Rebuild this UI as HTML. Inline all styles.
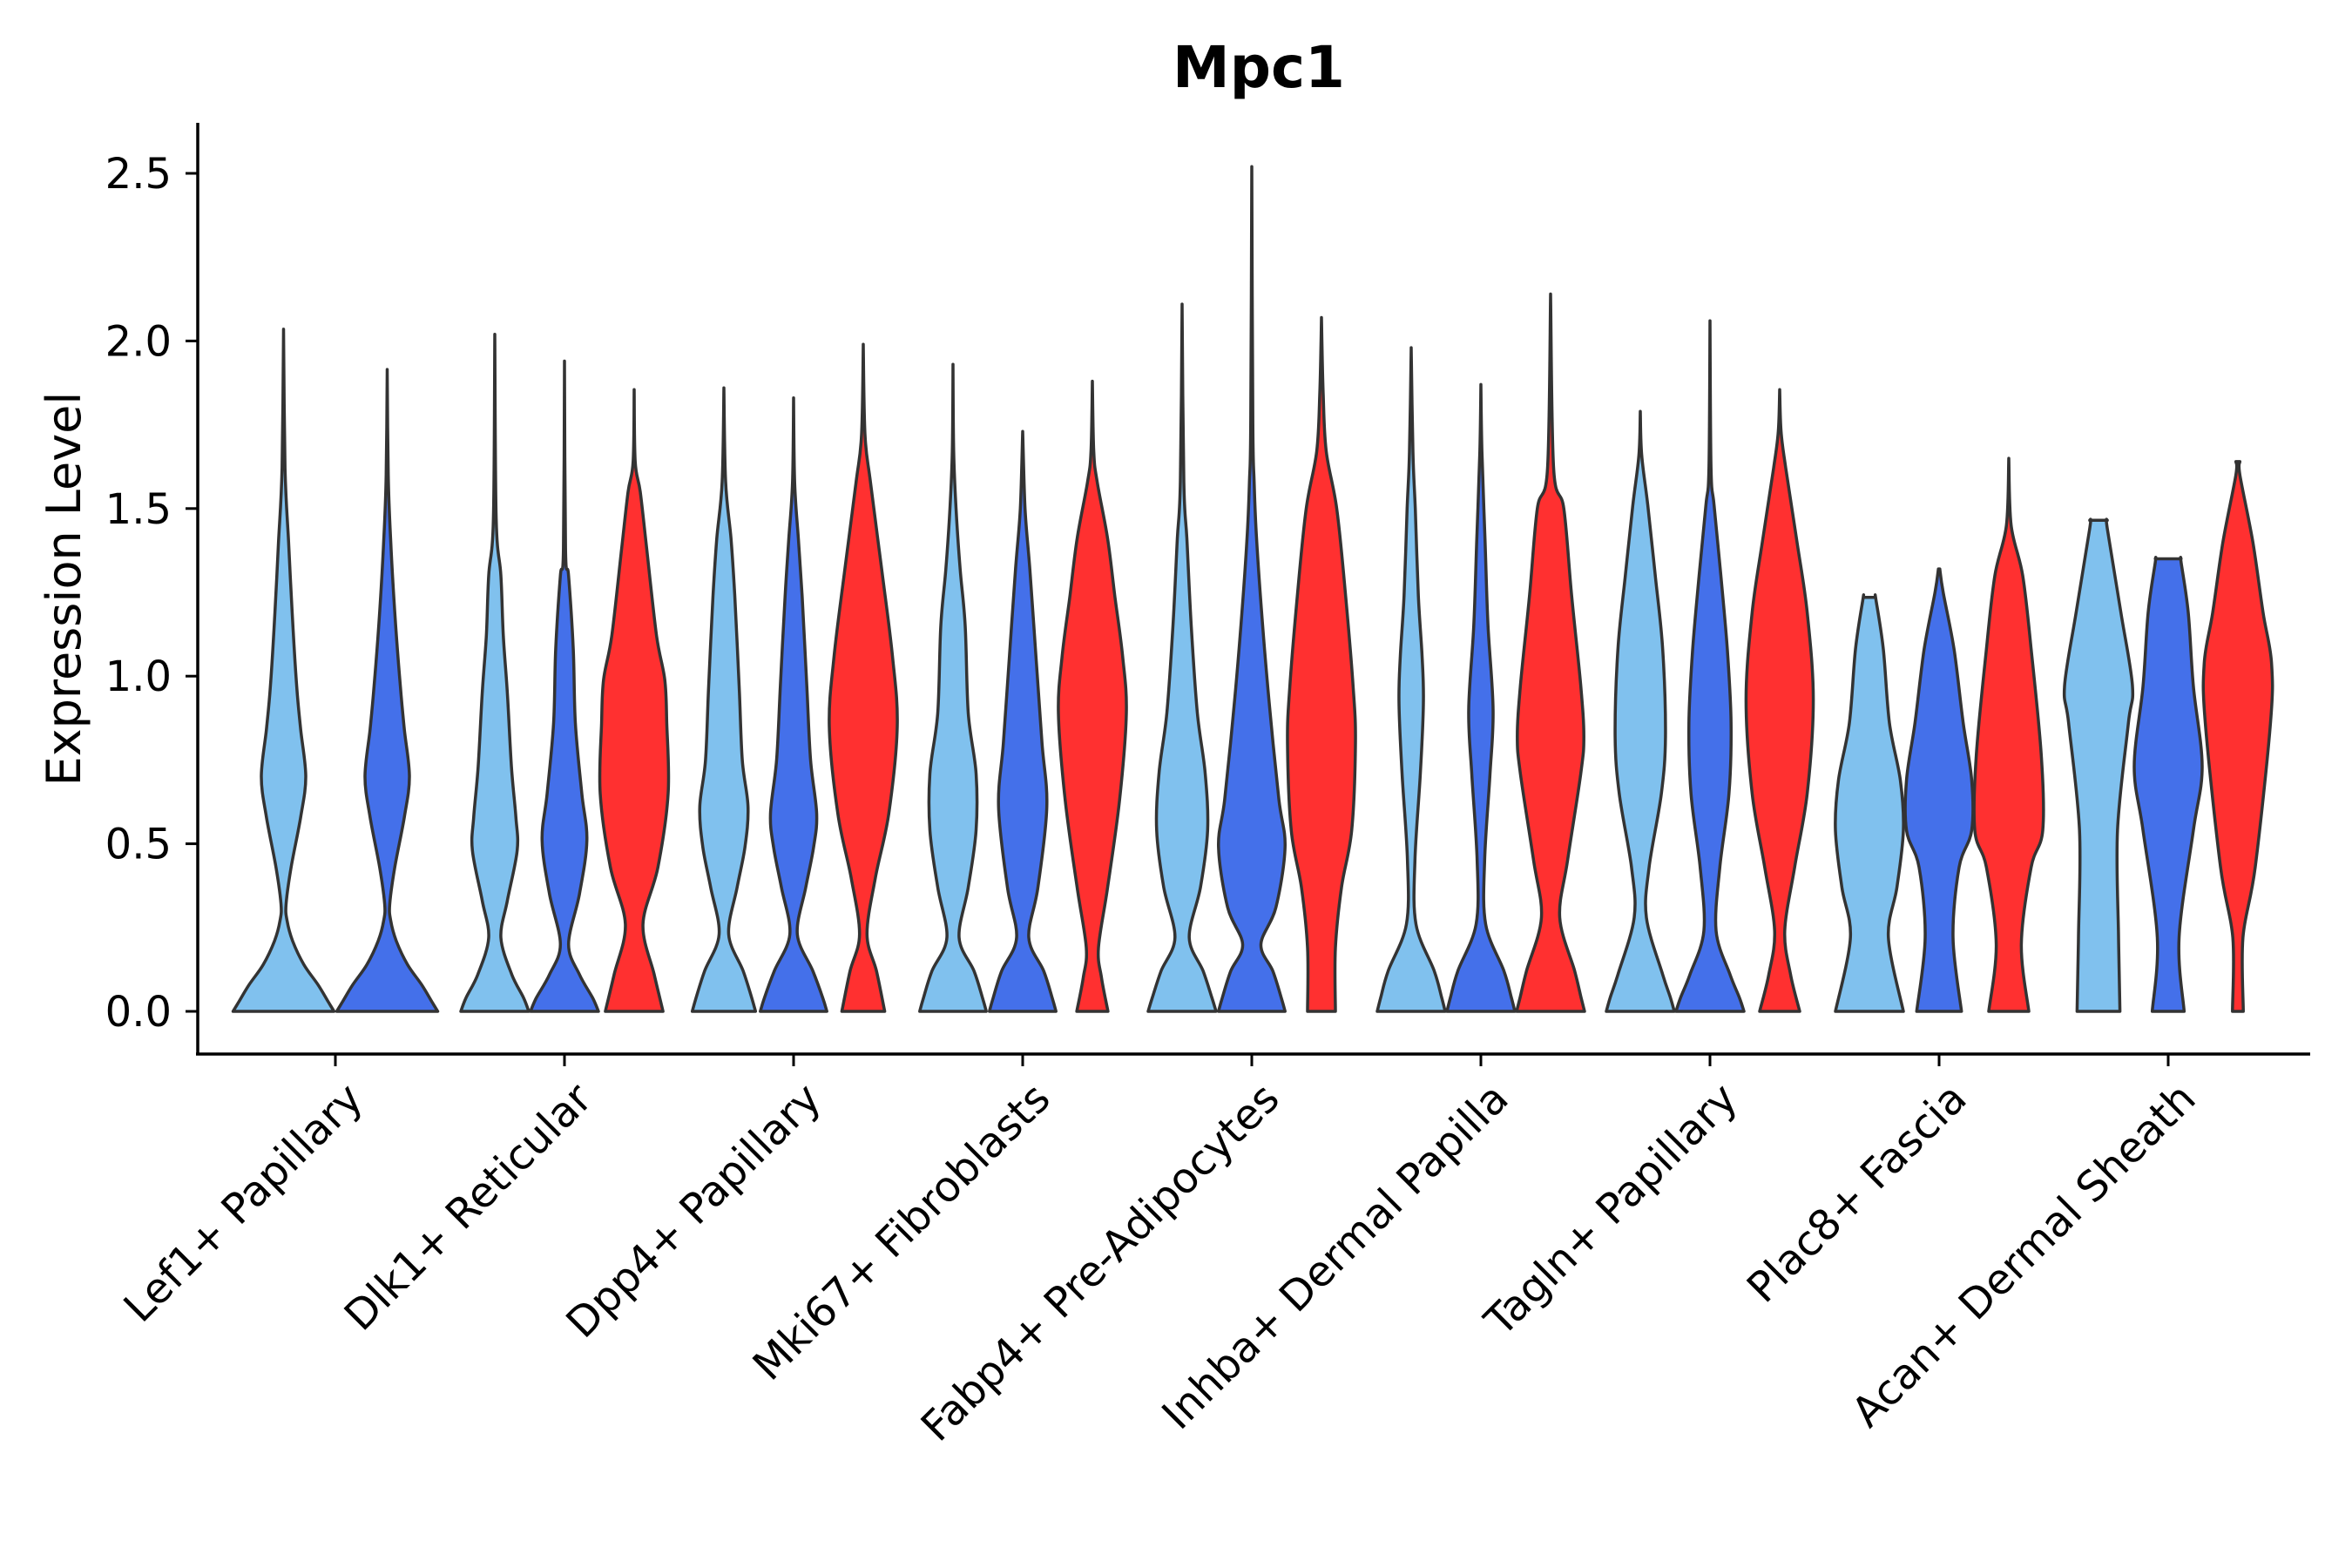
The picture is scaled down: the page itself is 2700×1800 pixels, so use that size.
<!DOCTYPE html>
<html><head><meta charset="utf-8"><style>
html,body{margin:0;padding:0;background:#fff}
svg{display:block}
text{font-family:"DejaVu Sans","Liberation Sans",sans-serif;fill:#000}
</style></head><body>
<svg id="chart" width="2700" height="1800" viewBox="0 0 2700 1800" xmlns="http://www.w3.org/2000/svg">
<rect width="2700" height="1800" fill="#fff"/>
<text x="1445" y="100" font-size="66" font-weight="bold" text-anchor="middle">Mpc1</text>
<text transform="translate(92,676) rotate(-90)" font-size="54" text-anchor="middle">Expression Level</text>
<g id="plot"></g>
</svg>
<script>
const categories = ["Lef1+ Papillary","Dlk1+ Reticular","Dpp4+ Papillary","Mki67+ Fibroblasts","Fabp4+ Pre-Adipocytes","Inhba+ Dermal Papilla","Tagln+ Papillary","Plac8+ Fascia","Acan+ Dermal Sheath"];
const seriesNames = ["light","blue","red"];
const yTicks = [0, 0.5, 1.0, 1.5, 2.0, 2.5];
const yTickLabels = ["0.0","0.5","1.0","1.5","2.0","2.5"];
const present = [[0,1],[0,1,2],[0,1,2],[0,1,2],[0,1,2],[0,1,2],[0,1,2],[0,1,2],[0,1,2]];
const tops = [[2.035,1.915],[2.02,1.94,1.855],[1.86,1.83,1.99],[1.93,1.73,1.88],[2.11,2.52,2.07],[1.98,1.87,2.14],[1.79,2.06,1.855],[1.235,1.32,1.65],[1.465,1.35,1.64]];
const topWidths = [[0,0],[0,0,0],[0,0,0],[0,0,0],[0,0,0],[0,0,0],[0,0,0],[0.18,0.02,0],[0.26,0.38,0.06]];
const profiles = [
 [[[0,1],[0.03,0.88],[0.08,0.68],[0.14,0.4],[0.21,0.18],[0.27,0.07],[0.32,0.05],[0.43,0.15],[0.58,0.34],[0.7,0.44],[0.84,0.34],[0.97,0.26],[1.19,0.17],[1.4,0.1],[1.62,0.03]],
  [[0,1],[0.03,0.88],[0.08,0.68],[0.14,0.4],[0.21,0.18],[0.27,0.07],[0.32,0.05],[0.43,0.15],[0.58,0.34],[0.7,0.44],[0.84,0.34],[0.97,0.26],[1.19,0.15],[1.4,0.07],[1.6,0.02]]],
 [[[0,1],[0.04,0.85],[0.11,0.5],[0.22,0.18],[0.33,0.37],[0.48,0.66],[0.58,0.62],[0.73,0.49],[0.95,0.37],[1.12,0.25],[1.3,0.18],[1.47,0.04]],
  [[0,1],[0.04,0.83],[0.11,0.44],[0.2,0.12],[0.35,0.44],[0.51,0.66],[0.65,0.51],[0.86,0.32],[1.08,0.26],[1.3,0.12],[1.38,0.03]],
  [[0,0.85],[0.11,0.59],[0.26,0.26],[0.43,0.7],[0.65,1],[0.86,0.96],[0.99,0.9],[1.12,0.66],[1.38,0.37],[1.55,0.18],[1.64,0.03]]],
 [[[0,0.93],[0.04,0.82],[0.12,0.57],[0.23,0.14],[0.37,0.39],[0.49,0.62],[0.61,0.71],[0.75,0.54],[0.97,0.45],[1.24,0.32],[1.41,0.21],[1.58,0.05]],
  [[0,0.98],[0.04,0.86],[0.12,0.57],[0.23,0.11],[0.37,0.36],[0.49,0.59],[0.59,0.68],[0.75,0.5],[0.97,0.39],[1.24,0.25],[1.41,0.14],[1.58,0.03]],
  [[0,0.63],[0.12,0.39],[0.23,0.11],[0.4,0.36],[0.59,0.75],[0.85,1],[1.06,0.86],[1.32,0.54],[1.58,0.21],[1.72,0.05]]],
 [[[0,0.98],[0.04,0.87],[0.12,0.62],[0.22,0.18],[0.37,0.45],[0.54,0.68],[0.71,0.68],[0.89,0.45],[1.15,0.36],[1.32,0.21],[1.5,0.09],[1.67,0.02]],
  [[0,0.98],[0.04,0.87],[0.12,0.62],[0.22,0.18],[0.37,0.45],[0.61,0.71],[0.8,0.57],[1.06,0.39],[1.32,0.21],[1.5,0.07]],
  [[0,0.46],[0.1,0.27],[0.19,0.18],[0.37,0.45],[0.63,0.8],[0.89,1],[1.06,0.89],[1.24,0.66],[1.41,0.45],[1.58,0.14],[1.67,0.04]]],
 [[[0,1],[0.04,0.88],[0.12,0.62],[0.22,0.21],[0.37,0.54],[0.54,0.75],[0.71,0.68],[0.89,0.45],[1.15,0.27],[1.41,0.14],[1.58,0.05]],
  [[0,0.98],[0.04,0.87],[0.12,0.62],[0.2,0.27],[0.31,0.71],[0.49,0.98],[0.63,0.8],[0.89,0.54],[1.15,0.32],[1.41,0.14],[1.58,0.07],[1.76,0.03]],
  [[0,0.41],[0.19,0.41],[0.37,0.59],[0.54,0.89],[0.8,1],[0.97,0.93],[1.24,0.71],[1.5,0.45],[1.67,0.14],[1.84,0.05]]],
 [[[0,1],[0.04,0.9],[0.12,0.68],[0.26,0.14],[0.45,0.11],[0.71,0.27],[0.92,0.36],[1.06,0.32],[1.24,0.21],[1.5,0.12],[1.67,0.05]],
  [[0,1],[0.04,0.9],[0.12,0.68],[0.26,0.14],[0.45,0.11],[0.71,0.27],[0.9,0.36],[1.15,0.21],[1.41,0.12],[1.67,0.03]],
  [[0,1],[0.04,0.9],[0.12,0.71],[0.28,0.27],[0.45,0.5],[0.71,0.89],[0.82,0.98],[0.97,0.89],[1.24,0.62],[1.5,0.39],[1.62,0.09]]],
 [[[0,1],[0.04,0.89],[0.11,0.66],[0.28,0.18],[0.43,0.26],[0.65,0.62],[0.82,0.74],[1.08,0.66],[1.3,0.44],[1.51,0.22],[1.66,0.04]],
  [[0,1],[0.04,0.87],[0.11,0.59],[0.24,0.18],[0.43,0.29],[0.65,0.56],[0.86,0.62],[1.08,0.51],[1.3,0.32],[1.51,0.12],[1.62,0.03]],
  [[0,0.59],[0.11,0.32],[0.24,0.15],[0.43,0.44],[0.65,0.81],[0.93,0.99],[1.19,0.81],[1.4,0.51],[1.62,0.18],[1.73,0.04]]],
 [[[0,1],[0.22,0.56],[0.37,0.81],[0.54,1],[0.69,0.91],[0.86,0.59],[1.08,0.41],[1.23,0.19]],
  [[0,0.66],[0.22,0.41],[0.43,0.59],[0.54,0.96],[0.69,0.96],[0.86,0.71],[1.08,0.44],[1.25,0.12]],
  [[0,0.59],[0.2,0.37],[0.43,0.66],[0.54,1],[0.76,0.96],[1.08,0.66],[1.3,0.41],[1.45,0.07]]],
 [[[0,0.63],[0.22,0.59],[0.54,0.56],[0.86,0.88],[0.97,1],[1.19,0.66],[1.44,0.26]],
  [[0,0.47],[0.22,0.32],[0.54,0.74],[0.73,1],[0.97,0.74],[1.19,0.59],[1.34,0.38]],
  [[0,0.16],[0.22,0.15],[0.43,0.51],[0.86,0.96],[1.04,0.99],[1.19,0.74],[1.4,0.44],[1.6,0.06]]]
];
const colors = ["#80C1EE","#4470EA","#FF3030"];
const NS = "http://www.w3.org/2000/svg";
const plot = document.getElementById("plot");
const X0 = 385, DX = 263, Y0 = 1161, KY = 384.8;
function xScale(i){ return X0 + DX*i; }
function yScale(v){ return Y0 - KY*v; }
function mk(tag, attrs){ const e=document.createElementNS(NS,tag); for(const k in attrs) e.setAttribute(k,attrs[k]); return e; }
function smooth(pts){
  let d = "";
  for(let i=0;i<pts.length-1;i++){
    const p0=pts[Math.max(0,i-1)], p1=pts[i], p2=pts[i+1], p3=pts[Math.min(pts.length-1,i+2)];
    const c1=[p1[0]+(p2[0]-p0[0])/6, p1[1]+(p2[1]-p0[1])/6];
    const c2=[p2[0]-(p3[0]-p1[0])/6, p2[1]-(p3[1]-p1[1])/6];
    d += " C"+c1[0].toFixed(1)+","+c1[1].toFixed(1)+" "+c2[0].toFixed(1)+","+c2[1].toFixed(1)+" "+p2[0].toFixed(1)+","+p2[1].toFixed(1);
  }
  return d;
}
categories.forEach((cat, ci) => {
  const pres = present[ci];
  const n = pres.length;
  const off = n === 2 ? 119 : 80;
  const hw = n === 2 ? 58 : 39;
  pres.forEach((s, k) => {
    const cx = xScale(ci) + (n === 2 ? (k - 0.5) : (k - 1)) * off;
    const prof = profiles[ci][k].slice();
    prof.push([tops[ci][k], topWidths[ci][k]]);
    const left = prof.map(p => [cx - p[1]*hw, yScale(p[0])]);
    const right = prof.slice().reverse().map(p => [cx + p[1]*hw, yScale(p[0])]);
    let d = "M"+left[0][0].toFixed(1)+","+left[0][1].toFixed(1) + smooth(left);
    d += " L"+right[0][0].toFixed(1)+","+right[0][1].toFixed(1) + smooth(right) + " Z";
    const path = mk("path", {d:d, fill:colors[s], stroke:"#333333", "stroke-width":"3.5", "stroke-linejoin":"round"});
    
    
    plot.appendChild(path);
  });
});
const yAxis = mk("line",{x1:227,y1:141,x2:227,y2:1211,stroke:"#000","stroke-width":"3.5"});


plot.appendChild(yAxis);
const xAxis = mk("line",{x1:225,y1:1210,x2:2652,y2:1210,stroke:"#000","stroke-width":"3.5"});


plot.appendChild(xAxis);
yTicks.forEach((v, i) => {
  const t = mk("line",{x1:213,y1:yScale(v),x2:227,y2:yScale(v),stroke:"#000","stroke-width":"3"});
  
  
  plot.appendChild(t);
  const lb = mk("text",{x:197,y:yScale(v)+17,"font-size":"48","text-anchor":"end"});
  lb.textContent = yTickLabels[i];
  
  
  plot.appendChild(lb);
});
categories.forEach((cat, ci) => {
  const x = xScale(ci);
  const t = mk("line",{x1:x,y1:1210,x2:x,y2:1224,stroke:"#000","stroke-width":"3"});
  
  
  plot.appendChild(t);
  const lb = mk("text",{transform:"translate("+(x+34)+",1264) rotate(-45)","font-size":"48","text-anchor":"end"});
  lb.textContent = cat;
  
  
  plot.appendChild(lb);
});
</script>
</body></html>
